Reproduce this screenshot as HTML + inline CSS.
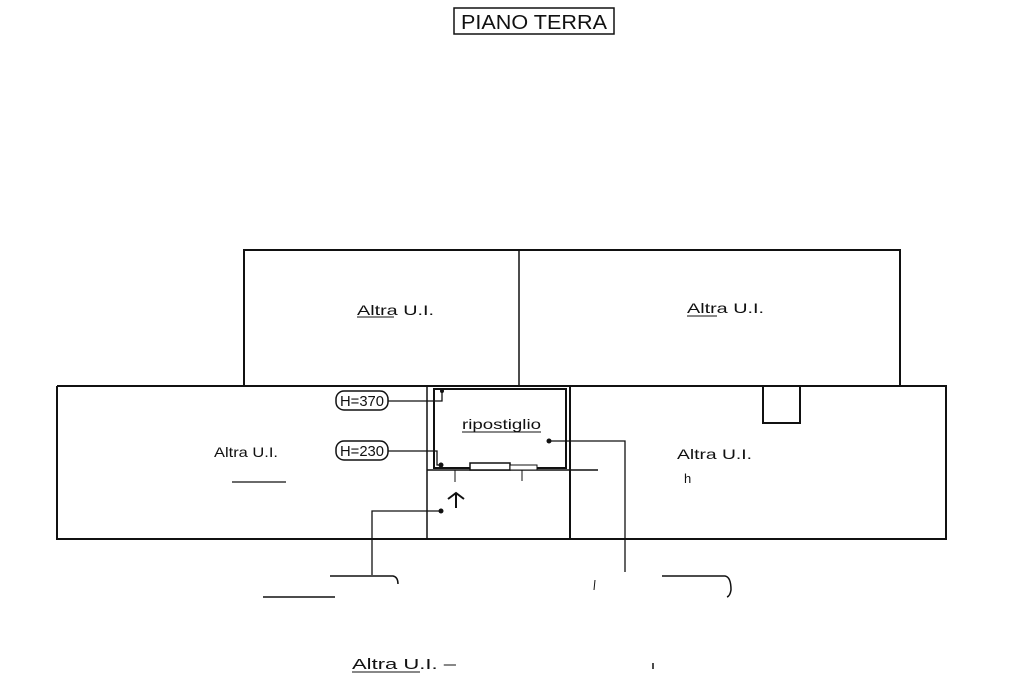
<!DOCTYPE html>
<html><head><meta charset="utf-8"><style>
html,body{margin:0;padding:0;background:#fff;}
svg{display:block;}
text{font-family:"Liberation Sans Narrow","Liberation Sans",sans-serif;fill:#111;}
</style></head><body>
<svg width="1024" height="682" viewBox="0 0 1024 682" xmlns="http://www.w3.org/2000/svg">
<g fill="none" stroke="#111" stroke-width="2">
<!-- title -->
<rect x="454" y="8" width="160" height="26" stroke-width="1.5"/>
<!-- top boxes -->
<rect x="244" y="250" width="656" height="136"/>
<line x1="519" y1="250" x2="519" y2="386" stroke-width="1.5"/>
<!-- bottom -->
<polyline points="57,386 763,386 763,423 800,423 800,386 946,386 946,539 57,539 57,386"/>
<line x1="427" y1="386" x2="427" y2="539" stroke-width="1.5"/>
<line x1="570" y1="386" x2="570" y2="539" stroke-width="2"/>
<!-- ripostiglio -->
<rect x="434" y="389" width="132" height="79" stroke-width="2"/>
<line x1="427" y1="470" x2="598" y2="470" stroke-width="1.5"/>
<rect x="470" y="463" width="40" height="7" fill="#fff" stroke-width="1.5"/>
<rect x="510" y="465" width="27" height="5" fill="#fff" stroke-width="1"/>
<line x1="522" y1="470" x2="522" y2="481" stroke-width="1"/>
<line x1="455" y1="470" x2="455" y2="482" stroke-width="1"/>
<!-- arrow -->
<line x1="456" y1="493" x2="456" y2="508" stroke-width="2"/>
<path d="M448 499 L456 493 L464 499" stroke-width="2"/>
<!-- leader lines -->
<polyline points="441,511 372,511 372,575" stroke-width="1.3"/>
<polyline points="549,441 625,441 625,572" stroke-width="1.3"/>
<polyline points="388,401 442,401 442,391" stroke-width="1.3"/>
<polyline points="388,451 437,451 437,465 441,465" stroke-width="1.3"/>
<!-- H pills -->
<rect x="336" y="391" width="52" height="19" rx="8" stroke-width="1.5"/>
<rect x="336" y="441" width="52" height="19" rx="8" stroke-width="1.5"/>
<!-- bottom fragments -->
<path d="M330 576 L393 576 Q398 577 398 584" stroke-width="1.5"/>
<path d="M263 597 L335 597" stroke-width="1.5"/>
<path d="M662 576 L725 576 Q731 577 731 590 Q730 596 727 597" stroke-width="1.5"/>
<path d="M595 580 L594 590" stroke-width="1"/>
<line x1="232" y1="482" x2="286" y2="482" stroke-width="1.2"/>
<line x1="653" y1="663" x2="653" y2="669" stroke-width="1.5"/>
</g>
<circle cx="441" cy="511" r="2.5" fill="#111"/>
<circle cx="549" cy="441" r="2.5" fill="#111"/>
<circle cx="442" cy="391" r="2" fill="#111"/>
<circle cx="441" cy="465" r="2.5" fill="#111"/>
<text x="534" y="29" font-size="20" text-anchor="middle" textLength="146" lengthAdjust="spacingAndGlyphs">PIANO TERRA</text>
<text x="357" y="315" font-size="14" textLength="77" lengthAdjust="spacingAndGlyphs">Altra U.I.</text>
<line x1="357" y1="317" x2="394" y2="317" stroke="#111" stroke-width="1"/>
<text x="687" y="313" font-size="14" textLength="77" lengthAdjust="spacingAndGlyphs">Altra U.I.</text>
<line x1="687" y1="316" x2="717" y2="316" stroke="#111" stroke-width="1"/>
<text x="214" y="457" font-size="14" textLength="64" lengthAdjust="spacingAndGlyphs">Altra U.I.</text>
<text x="677" y="459" font-size="14" textLength="75" lengthAdjust="spacingAndGlyphs">Altra U.I.</text>
<text x="684" y="483" font-size="13">h</text>
<text x="462" y="429" font-size="14" textLength="79" lengthAdjust="spacingAndGlyphs">ripostiglio</text>
<line x1="462" y1="432" x2="541" y2="432" stroke="#111" stroke-width="1"/>
<text x="362" y="406" font-size="15" text-anchor="middle" textLength="44" lengthAdjust="spacingAndGlyphs">H=370</text>
<text x="362" y="456" font-size="15" text-anchor="middle" textLength="44" lengthAdjust="spacingAndGlyphs">H=230</text>
<text x="352" y="669" font-size="15" textLength="104" lengthAdjust="spacingAndGlyphs">Altra U.I. –</text>
<line x1="352" y1="672" x2="420" y2="672" stroke="#111" stroke-width="1"/>
</svg>
</body></html>
